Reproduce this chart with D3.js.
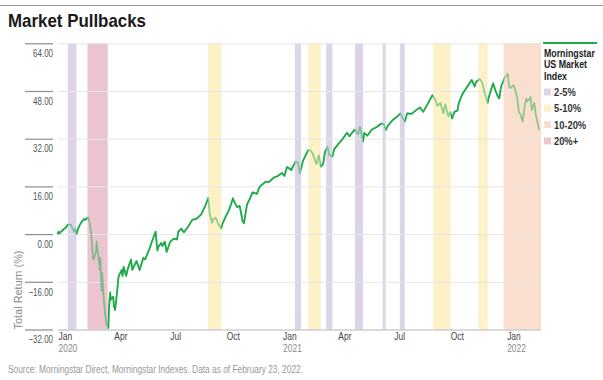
<!DOCTYPE html>
<html>
<head>
<meta charset="utf-8">
<script src="https://cdn.jsdelivr.net/npm/d3@7"></script>
<style>
  html, body { margin: 0; padding: 0; background: #fff; }
  svg { display: block; }
  text { font-family: "Liberation Sans", Arial, sans-serif; }
</style>
</head>
<body>
<svg id="chart" width="603" height="380"></svg>
<script>
// ---------------- DATA ----------------
const title = "Market Pullbacks";
const sourceNote = "Source: Morningstar Direct, Morningstar Indexes. Data as of February 23, 2022.";
const yAxisTitle = "Total Return (%)";
const seriesName = ["Morningstar", "US Market", "Index"];

const yTicks = [-32, -16, 0, 16, 32, 48, 64];
const xTickDates = ["2020-01-01","2020-04-01","2020-07-01","2020-10-01","2021-01-01","2021-04-01","2021-07-01","2021-10-01","2022-01-01"];

const categories = ["2-5%", "5-10%", "10-20%", "20%+"];
const categoryColors = ["#dcd4e8", "#fcf1c7", "#fadfcf", "#eac4cf"];

const bandStart = ["2020-01-17","2020-02-18","2020-09-01","2021-01-21","2021-02-12","2021-03-13","2021-04-29","2021-06-13","2021-07-11","2021-09-03","2021-11-16","2021-12-27"];
const bandEnd   = ["2020-01-31","2020-03-22","2020-09-23","2021-01-31","2021-03-04","2021-03-23","2021-05-12","2021-06-18","2021-07-19","2021-10-02","2021-12-01","2022-02-26"];
const bandCategory = ["2-5%","20%+","5-10%","2-5%","5-10%","2-5%","2-5%","2-5%","2-5%","5-10%","5-10%","10-20%"];

const dates = [
 "2019-12-31","2020-01-02","2020-01-03","2020-01-08","2020-01-10","2020-01-14","2020-01-17","2020-01-22","2020-01-24","2020-01-27","2020-01-29","2020-01-31",
 "2020-02-04","2020-02-07","2020-02-12","2020-02-14","2020-02-19","2020-02-21","2020-02-24","2020-02-27","2020-02-28",
 "2020-03-03","2020-03-04","2020-03-06","2020-03-09","2020-03-10","2020-03-12","2020-03-13","2020-03-16","2020-03-18","2020-03-20","2020-03-23",
 "2020-03-24","2020-03-26","2020-03-27","2020-03-31","2020-04-01","2020-04-03","2020-04-06","2020-04-08","2020-04-09","2020-04-14","2020-04-15","2020-04-17",
 "2020-04-21","2020-04-24","2020-04-29","2020-05-01","2020-05-08","2020-05-13","2020-05-19","2020-05-22","2020-05-28","2020-06-03","2020-06-08","2020-06-11",
 "2020-06-12","2020-06-17","2020-06-19","2020-06-23","2020-06-26","2020-07-02","2020-07-08","2020-07-13","2020-07-15","2020-07-20","2020-07-24","2020-07-31",
 "2020-08-07","2020-08-14","2020-08-21","2020-08-28","2020-09-02","2020-09-04","2020-09-08","2020-09-10","2020-09-14","2020-09-18","2020-09-23","2020-09-25",
 "2020-09-30","2020-10-05","2020-10-09","2020-10-12","2020-10-15","2020-10-19","2020-10-23","2020-10-28","2020-10-30","2020-11-04","2020-11-09","2020-11-13",
 "2020-11-20","2020-11-25","2020-12-04","2020-12-10","2020-12-18","2020-12-24","2020-12-31","2021-01-04","2021-01-08","2021-01-12","2021-01-15","2021-01-22",
 "2021-01-26","2021-01-29","2021-02-03","2021-02-10","2021-02-12","2021-02-16","2021-02-19","2021-02-25","2021-02-26","2021-03-01","2021-03-04","2021-03-08",
 "2021-03-11","2021-03-15","2021-03-18","2021-03-23","2021-03-26","2021-04-01","2021-04-09","2021-04-16","2021-04-20","2021-04-26","2021-04-29","2021-05-04",
 "2021-05-07","2021-05-12","2021-05-14","2021-05-19","2021-05-26","2021-06-04","2021-06-11","2021-06-15","2021-06-18","2021-06-22","2021-06-29","2021-07-07",
 "2021-07-12","2021-07-16","2021-07-19","2021-07-23","2021-07-30","2021-08-06","2021-08-13","2021-08-18","2021-08-25","2021-09-02","2021-09-07","2021-09-10",
 "2021-09-15","2021-09-20","2021-09-23","2021-09-28","2021-10-01","2021-10-04","2021-10-08","2021-10-13","2021-10-15","2021-10-21","2021-10-29","2021-11-05",
 "2021-11-10","2021-11-12","2021-11-18","2021-11-22","2021-11-26","2021-11-30","2021-12-01","2021-12-03","2021-12-10","2021-12-14","2021-12-17","2021-12-20",
 "2021-12-23","2021-12-29","2022-01-03","2022-01-05","2022-01-07","2022-01-12","2022-01-14","2022-01-18","2022-01-21","2022-01-24","2022-01-27","2022-01-31",
 "2022-02-02","2022-02-04","2022-02-09","2022-02-11","2022-02-15","2022-02-18","2022-02-23"
];
const returns = [
 0, 0.8, 0.2, 1.2, 1.6, 2.2, 3.2, 3.2, 2.2, 0.8, 1.8, 0.0,
 2.5, 3.6, 5.0, 4.8, 5.6, 4.4, 0.5, -8.0, -8.5,
 -6.0, -2.5, -6.0, -12.0, -8.0, -19.0, -13.0, -23.0, -27.0, -30.0, -31.5,
 -25.0, -19.5, -22.0, -21.0, -24.0, -25.5, -20.0, -15.5, -14.0, -12.0, -14.0, -11.0,
 -14.0, -11.5, -8.5, -12.0, -9.0, -12.0, -8.0, -8.5, -5.5, -2.0, 0.8, -5.5,
 -4.5, -3.0, -4.0, -2.5, -6.0, -2.5, -1.5, -1.8, 0.8, 1.8, 0.6, 2.5,
 4.8, 5.2, 6.5, 9.5, 12.2, 7.0, 3.8, 5.0, 5.5, 3.5, 1.9, 3.5,
 5.8, 7.8, 10.0, 12.0, 10.5, 9.0, 9.5, 4.2, 3.6, 10.0, 12.0, 14.0,
 13.5, 16.0, 17.5, 17.5, 19.0, 19.5, 20.5, 19.5, 22.5, 22.0, 21.5, 24.3,
 24.0, 20.3, 24.5, 27.5, 28.2, 28.0, 27.0, 23.5, 24.0, 26.5, 22.6, 23.5,
 27.5, 29.3, 26.5, 26.0, 28.5, 30.0, 32.0, 34.0, 32.8, 34.5, 35.0, 33.5,
 36.0, 31.0, 34.0, 33.0, 35.0, 36.0, 37.1, 36.8, 34.9, 36.5, 38.2, 39.5,
 40.5, 38.8, 37.7, 40.5, 40.3, 41.5, 42.5, 41.0, 43.5, 46.6, 45.0, 43.0,
 44.0, 40.5, 43.5, 39.5, 41.0, 38.8, 41.0, 41.5, 44.0, 47.0, 49.5, 51.7,
 49.5, 51.0, 52.0, 51.0, 47.5, 44.9, 44.0, 46.0, 50.6, 48.0, 46.5, 45.5,
 49.5, 52.5, 53.8, 49.5, 49.0, 50.0, 49.0, 46.0, 41.0, 40.0, 37.7, 43.5,
 45.4, 44.5, 46.0, 41.6, 44.0, 39.5, 35.0
];

// ---------------- CHART ----------------
const svg = d3.select("#chart");
const parse = d3.utcParse("%Y-%m-%d");
const plotLeft = 58, plotRight = 541, plotTop = 43.3, plotBottom = 329.5;

const x = d3.scaleUtc().domain([parse("2020-01-01"), parse("2022-02-26")]).range([plotLeft, plotRight]);
const y = d3.scaleLinear().domain([-32, 64]).range([plotBottom, plotTop]);
const colorOf = d3.scaleOrdinal().domain(categories).range(categoryColors);

const series = dates.map((d, i) => ({ date: parse(d), value: returns[i] }));
const bands = bandStart.map((s, i) => ({ s: parse(s), e: parse(bandEnd[i]), c: bandCategory[i] }));

// horizontally condense text (the original uses a condensed typeface)
function squeeze(sel, k) {
  sel.each(function () {
    const t = d3.select(this);
    const xx = +t.attr("x") || 0;
    t.attr("x", xx / k).attr("transform", `scale(${k},1)`);
  });
}

// top rule
svg.append("line").attr("x1", 0).attr("x2", 603).attr("y1", 5.5).attr("y2", 5.5)
  .attr("stroke", "#9a9a9a").attr("stroke-width", 1);

// title
svg.append("text").attr("x", 8).attr("y", 26.7).text(title)
  .attr("font-size", 18.6).attr("font-weight", "bold").attr("fill", "#1a1a1a")
  .attr("textLength", 138).attr("lengthAdjust", "spacingAndGlyphs");

// bands
svg.append("g").selectAll("rect").data(bands).join("rect")
  .attr("x", d => x(d.s)).attr("width", d => x(d.e) - x(d.s))
  .attr("y", y(64)).attr("height", y(-32) - y(64))
  .attr("fill", d => colorOf(d.c));

// gridlines
const grid = svg.append("g").attr("transform", `translate(${plotLeft},0)`)
  .call(d3.axisLeft(y).tickValues(yTicks).tickSize(-(plotRight - plotLeft)).tickFormat(""));
grid.select(".domain").remove();
grid.selectAll(".tick line").attr("stroke", d => d === -32 ? "#b5b5b5" : "#e6e6e6").attr("stroke-width", 1);

// y axis: tick rules at left with labels underneath
const yAxis = svg.append("g").attr("transform", "translate(25,0)")
  .call(d3.axisRight(y).tickValues(yTicks).tickSize(28).tickFormat(d3.format(".2f")));
yAxis.select(".domain").remove();
yAxis.selectAll(".tick line").attr("stroke", "#8c8c8c").attr("stroke-width", 1.2);
yAxis.selectAll(".tick text").attr("x", 28).attr("dy", 13.3).attr("text-anchor", "end")
  .attr("font-size", 10.5).attr("fill", "#555").style("font-family", '"Liberation Sans", Arial, sans-serif');
squeeze(yAxis.selectAll(".tick text"), 0.76);

// y axis title
svg.append("text").attr("transform", `translate(22,${plotBottom}) rotate(-90)`)
  .attr("text-anchor", "start").attr("font-size", 10).attr("fill", "#8a8a8a").text(yAxisTitle)
  .attr("textLength", 79).attr("lengthAdjust", "spacingAndGlyphs");

// x axis
const monthFmt = d3.utcFormat("%b");
const xAxis = svg.append("g").attr("transform", `translate(0,${plotBottom})`)
  .call(d3.axisBottom(x).tickValues(xTickDates.map(parse)).tickSize(0).tickFormat(d => monthFmt(d)));
xAxis.select(".domain").remove();
xAxis.selectAll(".tick text").attr("text-anchor", "start").attr("x", 0).attr("dy", 0).attr("y", 10)
  .attr("font-size", 11).attr("fill", "#444").style("font-family", '"Liberation Sans", Arial, sans-serif');
xAxis.selectAll(".tick").filter(d => d.getUTCMonth() === 0)
  .append("text").attr("class", "yr").attr("x", 0).attr("y", 22.7).attr("text-anchor", "start")
  .attr("font-size", 11).attr("fill", "#8a8a8a")
  .text(d => d.getUTCFullYear());
squeeze(xAxis.selectAll(".tick text"), 0.77);

// line: faded everywhere, solid outside bands
const line = d3.line().x(d => x(d.date)).y(d => y(d.value));
const sorted = bands.slice().sort((a, b) => a.s - b.s);
const gaps = [];
let cur = plotLeft - 5;
sorted.forEach(b => { if (x(b.s) > cur) gaps.push([cur, x(b.s)]); cur = Math.max(cur, x(b.e)); });
if (cur < plotRight + 5) gaps.push([cur, plotRight + 5]);
const defs = svg.append("defs");
const clip = defs.append("clipPath").attr("id", "outside-bands");
clip.selectAll("rect").data(gaps).join("rect")
  .attr("x", d => d[0]).attr("width", d => d[1] - d[0]).attr("y", 0).attr("height", 380);

svg.append("path").datum(series).attr("d", line).attr("fill", "none")
  .attr("stroke", "#1cab48").attr("stroke-opacity", 0.5).attr("stroke-width", 1.7)
  .attr("stroke-linejoin", "round");
svg.append("path").datum(series).attr("d", line).attr("fill", "none")
  .attr("stroke", "#1cab48").attr("stroke-width", 1.7).attr("stroke-linejoin", "round")
  .attr("clip-path", "url(#outside-bands)");

// legend
const lg = svg.append("g").attr("transform", "translate(543,0)");
lg.append("line").attr("x1", 0).attr("x2", 54).attr("y1", 43).attr("y2", 43)
  .attr("stroke", "#1cab48").attr("stroke-width", 2);
const hdr = lg.selectAll("text.hdr").data(seriesName).join("text").attr("class", "hdr")
  .attr("x", 1).attr("y", (d, i) => 56.7 + i * 11.7).text(d => d)
  .attr("font-size", 11).attr("font-weight", "bold").attr("fill", "#222");
squeeze(hdr, 0.8);
const items = lg.selectAll("g.item").data(categories).join("g").attr("class", "item")
  .attr("transform", (d, i) => `translate(0,${96 + i * 16.3})`);
items.append("rect").attr("x", 1).attr("y", -7.5).attr("width", 7).attr("height", 7).attr("fill", d => colorOf(d));
const itemText = items.append("text").attr("x", 11).attr("y", 0).text(d => d)
  .attr("font-size", 11).attr("font-weight", "bold").attr("fill", "#333");
squeeze(itemText, 0.85);

// source
svg.append("text").attr("x", 8).attr("y", 373).text(sourceNote)
  .attr("font-size", 10.5).attr("fill", "#999")
  .attr("textLength", 295).attr("lengthAdjust", "spacingAndGlyphs");
</script>
</body>
</html>
